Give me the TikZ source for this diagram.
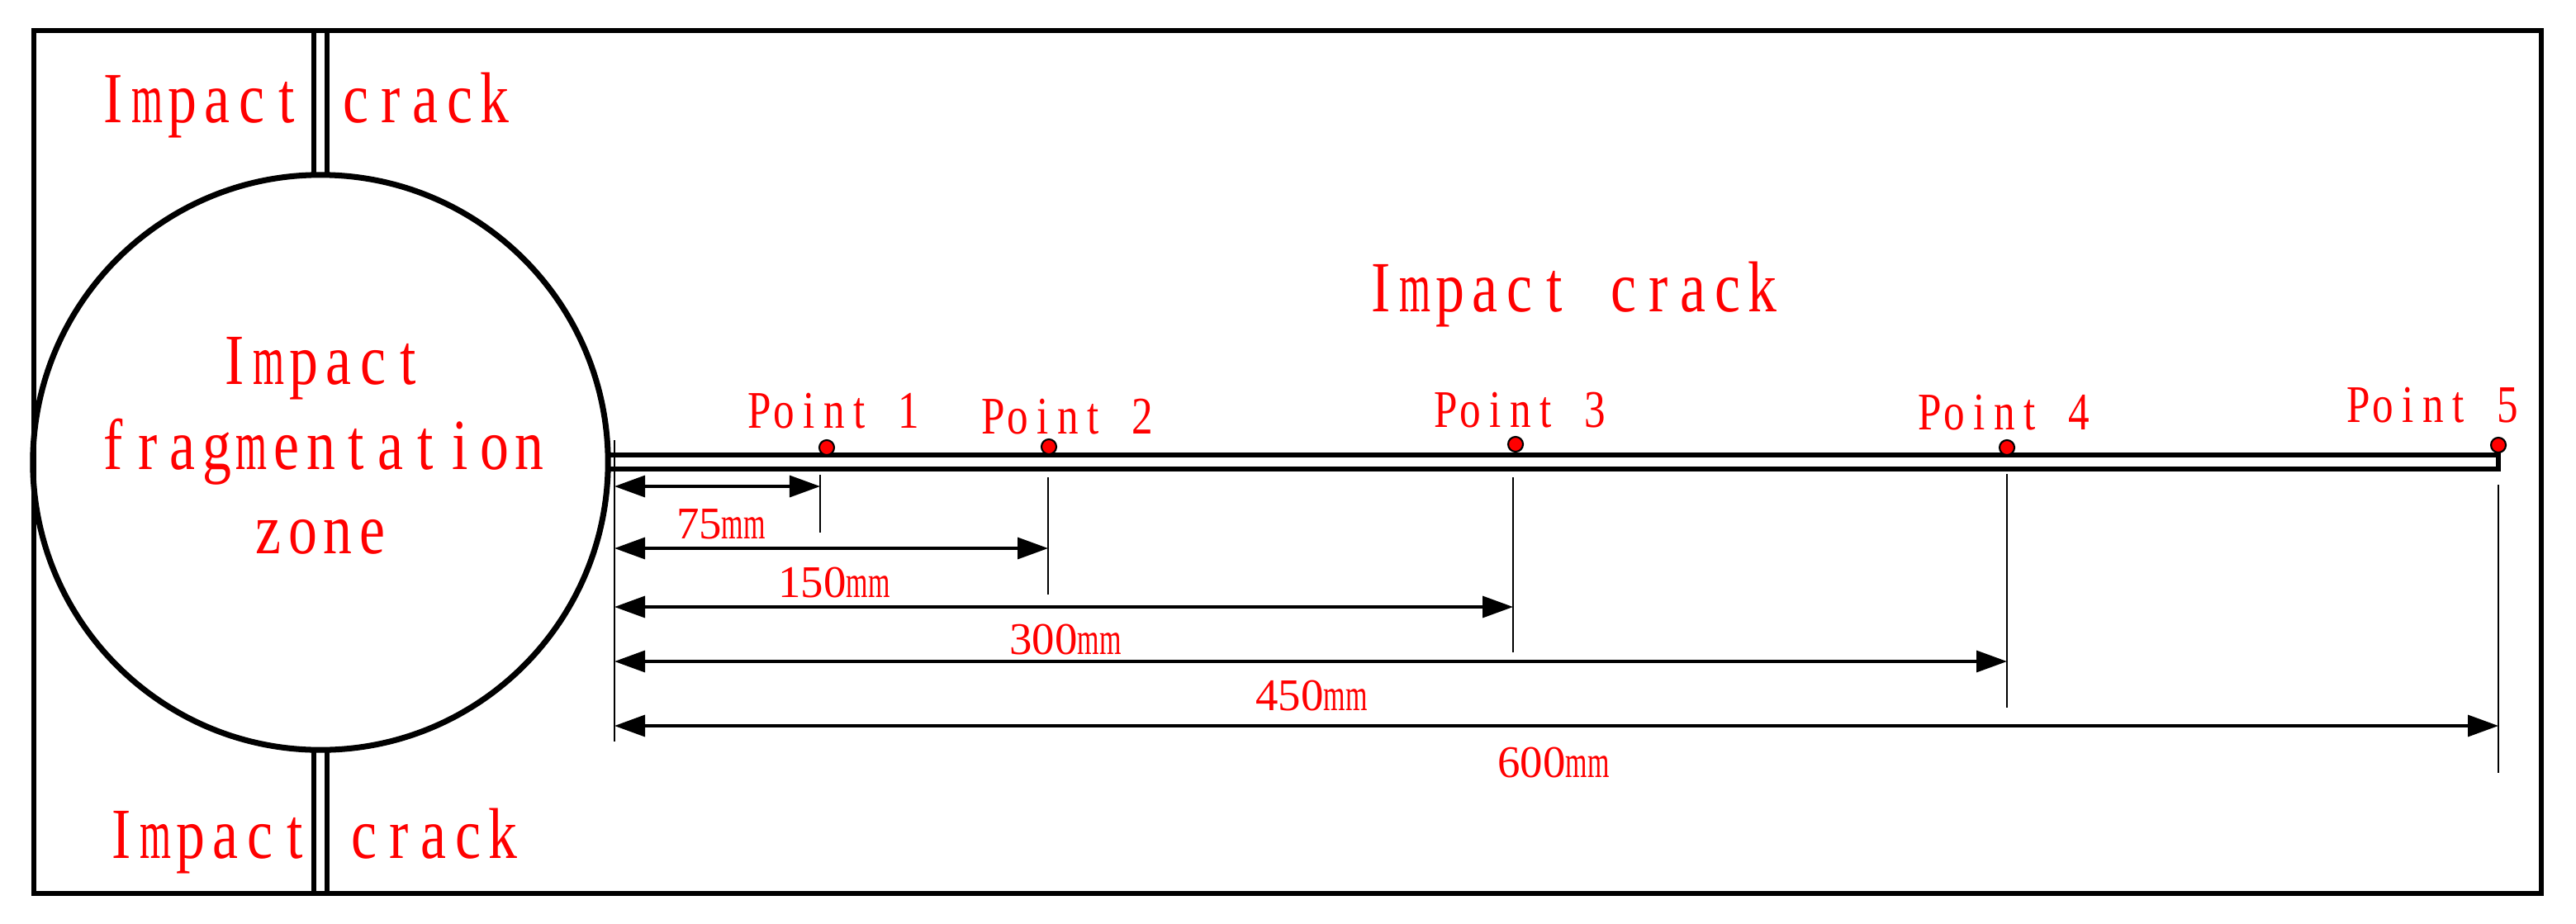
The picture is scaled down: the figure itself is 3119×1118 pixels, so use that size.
\documentclass[tikz,border=0pt]{standalone}
\usepackage{fontspec}
\setmainfont{Liberation Serif}
\newfontfamily\condfont[FakeStretch=0.8]{Liberation Serif}
\newfontfamily\mmfont[FakeStretch=0.62]{Liberation Serif}
\usetikzlibrary{arrows.meta}
\definecolor{lblred}{RGB}{255,0,0}
\ExplSyntaxOn
\NewDocumentCommand \cells { m m }
  { \tl_map_inline:nn {#2}
      { \makebox[#1][c]{ \str_if_eq:nnTF {##1} {m} { \scalebox{0.7}[1]{m} } {##1} } } }
\ExplSyntaxOff
\newcommand\bigtxt[1]{{\condfont\fontsize{24.8pt}{30pt}\selectfont\cells{0.42cm}{#1}}}
\newcommand\pttxt[1]{{\condfont\fontsize{18.2pt}{22pt}\selectfont\cells{0.302cm}{#1}}}
\newcommand\dimtxt[1]{{\fontsize{15.6pt}{18pt}\selectfont #1{\mmfont mm}}}
\tikzset{
  frame/.style={line width=1.9pt, line join=miter},
  crackline/.style={line width=1.8pt},
  zone/.style={circle, draw, line width=2pt, minimum size=6.96cm, inner sep=0pt},
  extline/.style={line width=0.65pt},
  dimline/.style={line width=0.95pt, {Triangle[length=0.37cm,width=0.26cm]}-{Triangle[length=0.37cm,width=0.26cm]}},
  lbl/.style={text=lblred, anchor=base, inner sep=0pt},
  gauge/.style={circle, draw=black, fill=lblred, line width=0.6pt, minimum size=0.18cm, inner sep=0pt}
}
\begin{document}
\begin{tikzpicture}[x=0.01cm, y=-0.01cm]
\useasboundingbox (0,0) rectangle (3119,1118);
% outer boundary
\draw[frame] (41,37) rectangle (3077,1082);
% fragmentation zone
\node[zone] (zone) at (388,560) {};
% vertical cracks
\draw[crackline] (380,37) -- (380,212.2) (396,37) -- (396,212.2);
\draw[crackline] (380,907.8) -- (380,1082) (396,907.8) -- (396,1082);
% horizontal crack
\draw[crackline, line join=miter] (735.5,551) -- (3025,551) -- (3025,568) -- (735.5,568);
% gauge points
\node[gauge] (p1) at (1001,542) {};
\node[gauge] (p2) at (1270,541) {};
\node[gauge] (p3) at (1835,538) {};
\node[gauge] (p4) at (2430,542) {};
\node[gauge] (p5) at (3025,539) {};
% extension lines
\coordinate (o1) at (744,533); \coordinate (o2) at (744,898);
\coordinate (a1) at (993,575);  \coordinate (a2) at (993,645);
\coordinate (b1) at (1269,578); \coordinate (b2) at (1269,720);
\coordinate (c1) at (1832,578); \coordinate (c2) at (1832,790);
\coordinate (d1) at (2430,574); \coordinate (d2) at (2430,857);
\coordinate (e1) at (3025,587); \coordinate (e2) at (3025,936);
\draw[extline] (o1) -- (o2);
\draw[extline] (a1) -- (a2);
\draw[extline] (b1) -- (b2);
\draw[extline] (c1) -- (c2);
\draw[extline] (d1) -- (d2);
\draw[extline] (e1) -- (e2);
% dimension lines
\coordinate (s1) at (744,589); \coordinate (t1) at (993,589);
\coordinate (s2) at (744,664); \coordinate (t2) at (1269,664);
\coordinate (s3) at (744,735); \coordinate (t3) at (1832,735);
\coordinate (s4) at (744,801); \coordinate (t4) at (2430,801);
\coordinate (s5) at (744,879); \coordinate (t5) at (3025,879);
\draw[dimline] (s1) -- (t1);
\draw[dimline] (s2) -- (t2);
\draw[dimline] (s3) -- (t3);
\draw[dimline] (s4) -- (t4);
\draw[dimline] (s5) -- (t5);
% dimension labels
\node[lbl] (m75)  at (873,652)  {\dimtxt{75}};
\node[lbl] (m150) at (1010,723) {\dimtxt{150}};
\node[lbl] (m300) at (1290,792) {\dimtxt{300}};
\node[lbl] (m450) at (1588,860) {\dimtxt{450}};
\node[lbl] (m600) at (1881,941) {\dimtxt{600}};
% point labels
\node[lbl] (l1) at (1010,518) {\pttxt{Point~1}};
\node[lbl] (l2) at (1293,525) {\pttxt{Point~2}};
\node[lbl] (l3) at (1841,517) {\pttxt{Point~3}};
\node[lbl] (l4) at (2427,520) {\pttxt{Point~4}};
\node[lbl] (l5) at (2946,511) {\pttxt{Point~5}};
% crack labels
\node[lbl] (ctop) at (368,148)  {\bigtxt{Impact~crack}};
\node[lbl] (cbot) at (378,1039) {\bigtxt{Impact~crack}};
\node[lbl] (cmid) at (1903,377) {\bigtxt{Impact~crack}};
% zone labels
\node[lbl] (z1) at (389,465) {\bigtxt{Impact}};
\node[lbl] (z2) at (389,568) {\bigtxt{fragmentation}};
\node[lbl] (z3) at (388,670) {\bigtxt{zone}};
\end{tikzpicture}
\end{document}
